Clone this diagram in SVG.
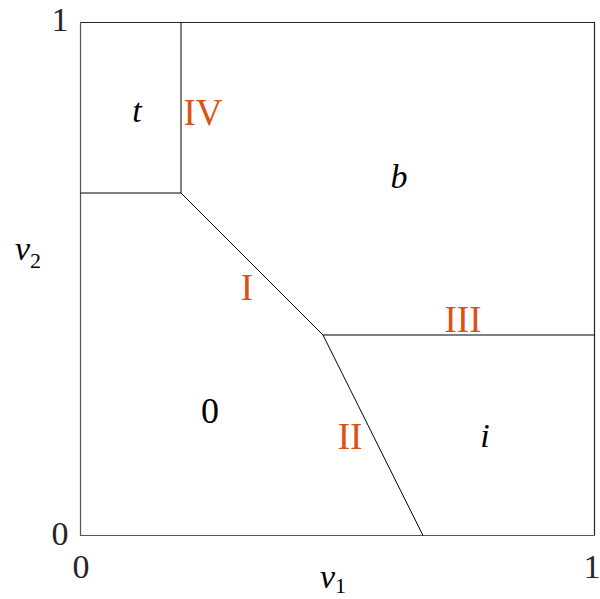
<svg xmlns="http://www.w3.org/2000/svg" width="600" height="599" viewBox="0 0 600 599">
  <style>
    .tick { font-family: "Liberation Serif", "DejaVu Serif", serif; font-size: 34px; fill: #262626; text-anchor: middle; }
    .var { font-family: "Liberation Serif", "DejaVu Serif", serif; font-style: italic; font-size: 34px; fill: #000; text-anchor: middle; }
    .sub { font-family: "Liberation Serif", "DejaVu Serif", serif; font-size: 22px; font-style: normal; }
    .reg { font-family: "Liberation Serif", "DejaVu Serif", serif; font-size: 36px; fill: #000; text-anchor: middle; }
    .roman { font-family: "Liberation Serif", "DejaVu Serif", serif; font-size: 37px; fill: #D95319; text-anchor: middle; }
    .edge { stroke: #000; stroke-width: 1; fill: none; }
  </style>
  <rect width="600" height="599" fill="#fff"/>
  <g id="axes">
    <path d="M80.5,22.5 H594.5 V535.5" stroke="#262626" stroke-width="1.2" fill="none"/>
    <path d="M80.5,22.5 V535.5 H594.5" stroke="#555" stroke-width="1.2" fill="none"/>
    <text class="tick" x="60" y="31">1</text>
    <text class="tick" x="60" y="545">0</text>
    <text class="tick" x="81" y="578">0</text>
    <text class="tick" x="592" y="578">1</text>
    <text class="var" x="333" y="588">v<tspan class="sub" dy="5">1</tspan></text>
    <text class="var" x="28" y="260">v<tspan class="sub" dy="8">2</tspan></text>
  </g>
  <g id="connectors">
    <path class="edge" d="M181,22.5 V193"/>
    <path class="edge" d="M80.5,193 H181"/>
    <path class="edge" d="M181,193 L323,335"/>
    <path class="edge" d="M323,335 H594.5"/>
    <path class="edge" d="M323,335 L423,535.5"/>
  </g>
  <g id="region-t"><text class="var" x="137" y="122">t</text></g>
  <g id="region-b"><text class="var" x="399" y="188">b</text></g>
  <g id="region-0"><text class="reg" x="210" y="423">0</text></g>
  <g id="region-i"><text class="var" x="485" y="447">i</text></g>
  <g id="label-IV"><text class="roman" x="203" y="125">IV</text></g>
  <g id="label-I"><text class="roman" x="247" y="300">I</text></g>
  <g id="label-III"><text class="roman" x="463" y="332">III</text></g>
  <g id="label-II"><text class="roman" x="350" y="449">II</text></g>
</svg>
